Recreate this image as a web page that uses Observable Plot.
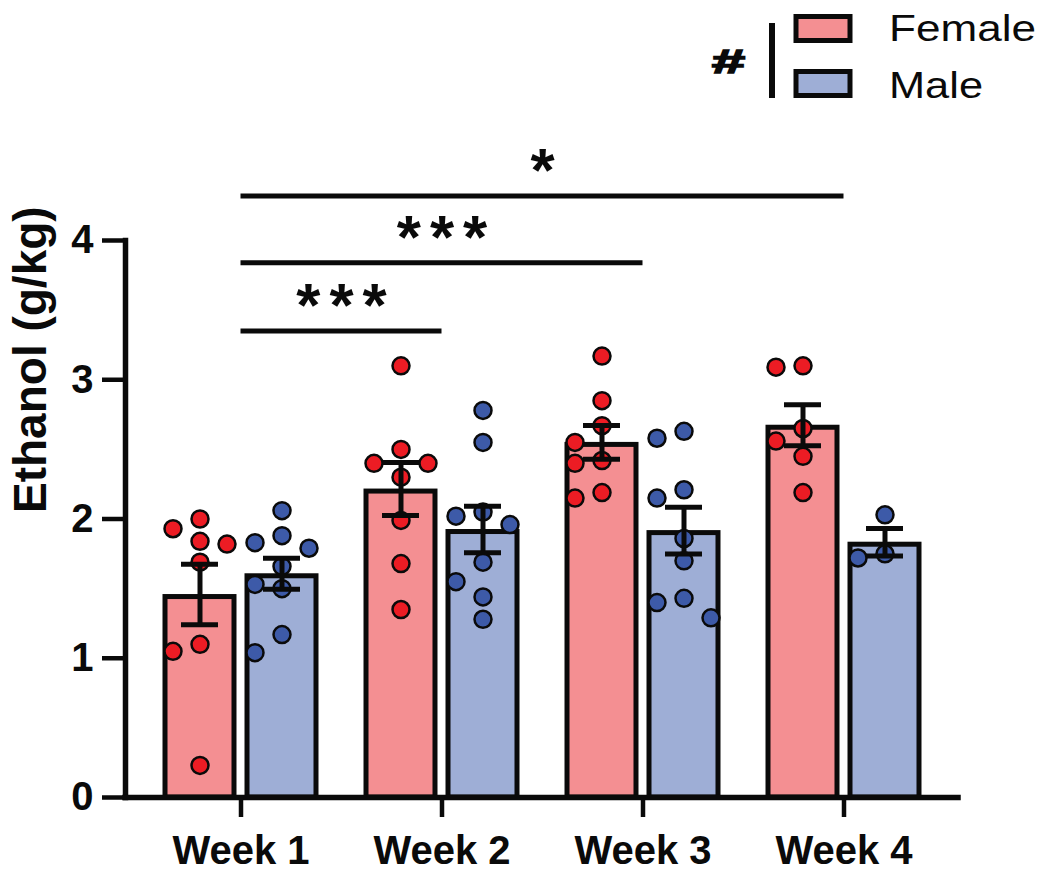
<!DOCTYPE html>
<html>
<head>
<meta charset="utf-8">
<script src="https://cdn.jsdelivr.net/npm/d3@7"></script>
<script src="https://cdn.jsdelivr.net/npm/@observablehq/plot@0.6"></script>
<style>
  body { margin: 0; background: #fff; }
  #wrap { position: relative; width: 1050px; height: 875px; font-family: "Liberation Sans", Arial, sans-serif; }
  #legend { position: absolute; left: 0; top: 0; }
</style>
</head>
<body>
<div id="wrap"></div>
<script>
// ---------- data ----------
const weeks = ["Week 1", "Week 2", "Week 3", "Week 4"];
const sexes = ["Female", "Male"];
const yTicks = [0, 1, 2, 3, 4];
const yLabel = "Ethanol (g/kg)";
const groupMark = "#";

// individual animals, g/kg, one inner list per week
const femaleValues = [
  [2.00, 1.93, 1.84, 1.82, 1.69, 1.10, 1.05, 0.23],
  [3.10, 2.50, 2.40, 2.40, 2.30, 1.99, 1.68, 1.35],
  [3.17, 2.85, 2.67, 2.55, 2.42, 2.40, 2.19, 2.15],
  [3.10, 3.09, 2.65, 2.56, 2.45, 2.19]
];
const maleValues = [
  [2.06, 1.88, 1.83, 1.79, 1.66, 1.53, 1.50, 1.17, 1.04],
  [2.78, 2.55, 2.05, 2.02, 1.96, 1.69, 1.55, 1.44, 1.28],
  [2.63, 2.58, 2.21, 2.15, 1.86, 1.70, 1.43, 1.40, 1.29],
  [2.03, 1.75, 1.72]
];

// post-hoc comparisons (bracket height in g/kg)
const comparisons = [
  { from: "Week 1", to: "Week 2", label: "***", level: 3.35 },
  { from: "Week 1", to: "Week 3", label: "***", level: 3.84 },
  { from: "Week 1", to: "Week 4", label: "*",   level: 4.32 }
];

// ---------- styling ----------
const barFill = { Female: "#f48f92", Male: "#9eaed6" };
const dotFill = { Female: "#ec1c24", Male: "#3d5aa8" };
const font = '"Liberation Sans", Arial, sans-serif';

const width = 1050, height = 875;
const marginLeft = 125, marginRight = 92, marginTop = 240, marginBottom = 78;
const padOuter = 0.072;
const bw = (width - marginLeft - marginRight) / (weeks.length + 2 * padOuter);
const sexDx = { Female: -41, Male: 41 };
const barWidth = 69, capWidth = 37, laneGap = 27, dotR = 8.5, minDist = 20;
const sigSpacing = 9;

// ---------- tables ----------
const valuesBySex = { Female: femaleValues, Male: maleValues };
const points = [];
const summary = [];
const yPix = d3.scaleLinear([0, 4], [height - marginBottom, marginTop]);

function assignLanes(values) {
  const order = d3.range(values.length).sort((a, b) => d3.descending(values[a], values[b]));
  const placed = [];
  const lanes = new Array(values.length);
  for (const i of order) {
    const py = yPix(values[i]);
    for (const lane of [0, -1, 1, -2, 2]) {
      if (placed.every(p => Math.hypot((p.lane - lane) * laneGap, p.py - py) >= minDist)) {
        lanes[i] = lane; placed.push({ lane, py }); break;
      }
    }
  }
  return lanes;
}

for (const sex of sexes) {
  weeks.forEach((week, wi) => {
    const vals = valuesBySex[sex][wi];
    const lanes = assignLanes(vals);
    vals.forEach((value, i) => points.push({ week, sex, value, lane: lanes[i] }));
    const mean = d3.mean(vals);
    const sem = d3.deviation(vals) / Math.sqrt(vals.length);
    summary.push({ week, sex, mean, sem });
  });
}

// ---------- marks ----------
const marks = [];
for (const sex of sexes) {
  marks.push(Plot.barY(summary.filter(d => d.sex === sex), {
    x: "week", y: "mean", fill: barFill[sex], stroke: "#0a0a0a", strokeWidth: 5,
    dx: sexDx[sex], insetLeft: (bw - barWidth) / 2, insetRight: (bw - barWidth) / 2, insetTop: 2.5
  }));
}
for (const sex of sexes) {
  const lanesUsed = Array.from(new Set(points.filter(d => d.sex === sex).map(d => d.lane)));
  for (const lane of lanesUsed) {
    marks.push(Plot.dot(points.filter(d => d.sex === sex && d.lane === lane), {
      x: "week", y: "value", r: dotR, fill: dotFill[sex], stroke: "#0a0a0a", strokeWidth: 2.5,
      dx: sexDx[sex] + lane * laneGap
    }));
  }
}
for (const sex of sexes) {
  const s = summary.filter(d => d.sex === sex);
  marks.push(Plot.ruleX(s, { x: "week", y1: d => d.mean - d.sem, y2: d => d.mean + d.sem,
    dx: sexDx[sex], stroke: "#0a0a0a", strokeWidth: 5 }));
  for (const k of [-1, 1]) {
    marks.push(Plot.tickY(s, { x: "week", y: d => d.mean + k * d.sem, dx: sexDx[sex],
      insetLeft: (bw - capWidth) / 2, insetRight: (bw - capWidth) / 2, stroke: "#0a0a0a", strokeWidth: 5 }));
  }
}
// significance brackets
marks.push(Plot.ruleY(comparisons, { x1: "from", x2: "to", y: "level",
  insetLeft: bw / 2, insetRight: bw / 2, stroke: "#0a0a0a", strokeWidth: 5 }));
for (const c of comparisons) {
  const span = weeks.indexOf(c.to) - weeks.indexOf(c.from);
  marks.push(Plot.text([c], { x: "from", y: "level", text: "label", dx: span * bw / 2 + sigSpacing / 2,
    lineAnchor: "bottom", dy: -5, fontSize: 62, fontWeight: "bold" }));
}
// axes
marks.push(Plot.frame({ anchor: "left", stroke: "#0a0a0a", strokeWidth: 5.5 }));
marks.push(Plot.ruleY([0], { stroke: "#0a0a0a", strokeWidth: 5.5, strokeLinecap: "square" }));
marks.push(Plot.axisY({ ticks: yTicks, tickSize: 23, tickPadding: 9, fontSize: 40, fontWeight: "bold",
  strokeWidth: 4.5, label: null, tickFormat: d3.format("d") }));
marks.push(Plot.axisX({ tickSize: 20, tickPadding: 18, fontSize: 40, fontWeight: "bold",
  strokeWidth: 4.5, label: null }));
marks.push(Plot.text([yLabel], { text: d => d, frameAnchor: "left", dx: -94, dy: -6, rotate: -90,
  fontSize: 46, fontWeight: "bold" }));

const chart = Plot.plot({
  width, height, marginLeft, marginRight, marginTop, marginBottom,
  style: { fontFamily: font, background: "transparent", overflow: "visible", color: "#0a0a0a" },
  x: { type: "band", domain: weeks, paddingInner: 0, paddingOuter: padOuter },
  y: { domain: [0, 4] },
  marks
});
// widen the spacing of the asterisk labels
const sigLabels = new Set(comparisons.map(c => c.label));
chart.querySelectorAll("text").forEach(t => {
  if (sigLabels.has(t.textContent)) t.style.letterSpacing = sigSpacing + "px";
});
const wrap = document.getElementById("wrap");
wrap.appendChild(chart);

// ---------- legend ----------
const ns = "http://www.w3.org/2000/svg";
const leg = document.createElementNS(ns, "svg");
leg.setAttribute("id", "legend");
leg.setAttribute("width", 1050);
leg.setAttribute("height", 110);
function el(tag, attrs, text) {
  const e = document.createElementNS(ns, tag);
  for (const k in attrs) e.setAttribute(k, attrs[k]);
  if (text != null) e.textContent = text;
  leg.appendChild(e);
  return e;
}
el("text", { x: 712, y: 73, "font-family": font, "font-size": 34, "font-weight": "bold",
  textLength: 33, lengthAdjust: "spacingAndGlyphs", fill: "#0a0a0a", stroke: "#0a0a0a",
  "stroke-width": 1.6 }, groupMark);
el("rect", { x: 769, y: 23, width: 6, height: 75, fill: "#0a0a0a" });
const legRows = [{ y: 16.5, base: 41, len: 147 }, { y: 71.5, base: 98, len: 94 }];
sexes.forEach((sex, i) => {
  const r = legRows[i];
  el("rect", { x: 796, y: r.y, width: 54, height: 24, fill: barFill[sex], stroke: "#0a0a0a", "stroke-width": 5 });
  el("text", { x: 889, y: r.base, "font-family": font, "font-size": 37, textLength: r.len,
    lengthAdjust: "spacingAndGlyphs", fill: "#0a0a0a" }, sex);
});
wrap.appendChild(leg);
</script>
</body>
</html>
